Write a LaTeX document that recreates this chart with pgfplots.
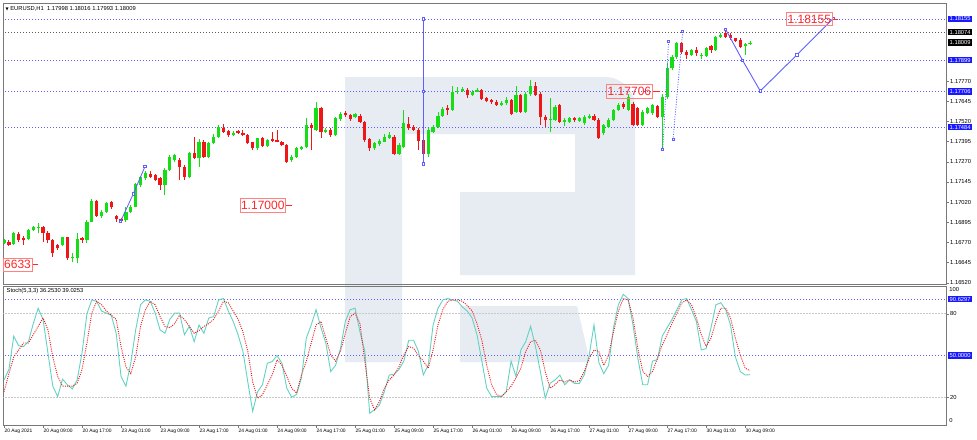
\documentclass[border=0pt]{standalone}
\usepackage{pgfplots}
\pgfplotsset{compat=1.18}
\usepackage{pgfplotstable}
\usepackage{fontspec}
\setmainfont{Liberation Sans}
\newfontfamily\dejavu{DejaVu Sans}
\definecolor{cgreen}{RGB}{22,222,22}
\definecolor{cred}{RGB}{238,22,22}
\definecolor{lvl}{RGB}{95,95,255}
\definecolor{lblue}{RGB}{25,25,255}
\definecolor{teal2}{RGB}{100,210,195}
\definecolor{wm}{RGB}{231,235,242}
\definecolor{frame}{RGB}{120,120,120}
\definecolor{lgray}{RGB}{200,200,200}
\definecolor{labred}{RGB}{255,40,40}
\definecolor{labbord}{RGB}{255,130,130}
\newcommand\fs[1]{\fontsize{#1}{#1}\selectfont}

\pgfplotstableread{
i o h l c
0 1.16765 1.16790 1.16760 1.16786
1 1.16776 1.16786 1.16750 1.16755
2 1.16761 1.16835 1.16757 1.16827
3 1.16821 1.16835 1.16776 1.16786
4 1.16796 1.16811 1.16755 1.16786
5 1.16790 1.16855 1.16786 1.16848
6 1.16848 1.16875 1.16840 1.16864
7 1.16858 1.16889 1.16827 1.16869
8 1.16864 1.16875 1.16776 1.16827
9 1.16827 1.16840 1.16765 1.16786
10 1.16786 1.16790 1.16683 1.16703
11 1.16755 1.16760 1.16724 1.16734
12 1.16755 1.16807 1.16750 1.16803
13 1.16803 1.16807 1.16662 1.16672
14 1.16672 1.16703 1.16652 1.16683
15 1.16672 1.16827 1.16641 1.16792
16 1.16800 1.16805 1.16770 1.16786
17 1.16786 1.16910 1.16770 1.16900
18 1.16900 1.17040 1.16895 1.17028
19 1.17028 1.17034 1.16930 1.16935
20 1.16935 1.16970 1.16925 1.16962
21 1.16962 1.17018 1.16955 1.17013
22 1.17018 1.17030 1.16980 1.16988
23 1.16932 1.16941 1.16900 1.16918
24 1.16916 1.16925 1.16893 1.16905
25 1.16910 1.16993 1.16900 1.16962
26 1.16962 1.17000 1.16955 1.16993
27 1.16993 1.17137 1.16988 1.17131
28 1.17127 1.17185 1.17115 1.17174
29 1.17168 1.17210 1.17160 1.17199
30 1.17195 1.17210 1.17170 1.17178
31 1.17189 1.17195 1.17150 1.17158
32 1.17168 1.17178 1.17096 1.17127
33 1.17127 1.17230 1.17065 1.17220
34 1.17220 1.17310 1.17210 1.17302
35 1.17282 1.17320 1.17270 1.17313
36 1.17282 1.17292 1.17158 1.17240
37 1.17240 1.17250 1.17160 1.17178
38 1.17178 1.17330 1.17170 1.17323
39 1.17323 1.17426 1.17285 1.17292
40 1.17292 1.17410 1.17240 1.17395
41 1.17395 1.17405 1.17295 1.17302
42 1.17302 1.17392 1.17295 1.17385
43 1.17385 1.17440 1.17380 1.17426
44 1.17426 1.17500 1.17420 1.17484
45 1.17482 1.17505 1.17450 1.17457
46 1.17462 1.17470 1.17425 1.17436
47 1.17436 1.17460 1.17430 1.17451
48 1.17459 1.17470 1.17445 1.17451
49 1.17451 1.17465 1.17430 1.17436
50 1.17436 1.17445 1.17380 1.17385
51 1.17390 1.17395 1.17345 1.17354
52 1.17354 1.17420 1.17345 1.17416
53 1.17416 1.17425 1.17360 1.17369
54 1.17369 1.17410 1.17360 1.17406
55 1.17410 1.17457 1.17395 1.17402
56 1.17406 1.17468 1.17390 1.17395
57 1.17390 1.17400 1.17370 1.17375
58 1.17375 1.17380 1.17261 1.17271
59 1.17282 1.17310 1.17270 1.17302
60 1.17302 1.17360 1.17295 1.17354
61 1.17350 1.17370 1.17345 1.17360
62 1.17360 1.17540 1.17355 1.17498
63 1.17498 1.17510 1.17344 1.17478
64 1.17468 1.17643 1.17460 1.17602
65 1.17602 1.17612 1.17420 1.17457
66 1.17457 1.17478 1.17447 1.17467
67 1.17467 1.17478 1.17426 1.17436
68 1.17436 1.17550 1.17430 1.17540
69 1.17534 1.17580 1.17525 1.17567
70 1.17571 1.17585 1.17550 1.17560
71 1.17560 1.17567 1.17525 1.17534
72 1.17545 1.17575 1.17540 1.17565
73 1.17556 1.17565 1.17510 1.17519
74 1.17519 1.17525 1.17395 1.17406
75 1.17412 1.17420 1.17340 1.17354
76 1.17354 1.17395 1.17344 1.17385
77 1.17380 1.17410 1.17370 1.17399
78 1.17395 1.17440 1.17390 1.17426
79 1.17420 1.17457 1.17410 1.17436
80 1.17426 1.17436 1.17310 1.17319
81 1.17319 1.17385 1.17310 1.17375
82 1.17364 1.17591 1.17354 1.17509
83 1.17505 1.17550 1.17470 1.17478
84 1.17488 1.17495 1.17460 1.17467
85 1.17467 1.17478 1.17344 1.17399
86 1.17406 1.17420 1.17285 1.17319
87 1.17319 1.17478 1.17302 1.17467
88 1.17457 1.17500 1.17447 1.17488
89 1.17488 1.17580 1.17478 1.17554
90 1.17554 1.17612 1.17545 1.17596
91 1.17602 1.17620 1.17560 1.17591
92 1.17591 1.17740 1.17585 1.17705
93 1.17701 1.17736 1.17690 1.17709
94 1.17711 1.17735 1.17700 1.17721
95 1.17715 1.17725 1.17664 1.17684
96 1.17684 1.17715 1.17675 1.17705
97 1.17705 1.17725 1.17700 1.17715
98 1.17715 1.17720 1.17650 1.17658
99 1.17664 1.17670 1.17640 1.17649
100 1.17653 1.17660 1.17630 1.17643
101 1.17643 1.17650 1.17615 1.17622
102 1.17622 1.17645 1.17615 1.17637
103 1.17633 1.17670 1.17625 1.17653
104 1.17653 1.17660 1.17560 1.17567
105 1.17581 1.17740 1.17575 1.17684
106 1.17684 1.17690 1.17575 1.17581
107 1.17581 1.17700 1.17575 1.17690
108 1.17688 1.17777 1.17680 1.17740
109 1.17740 1.17767 1.17675 1.17684
110 1.17690 1.17700 1.17498 1.17550
111 1.17550 1.17560 1.17488 1.17529
112 1.17529 1.17664 1.17457 1.17536
113 1.17529 1.17620 1.17520 1.17612
114 1.17622 1.17630 1.17510 1.17519
115 1.17519 1.17540 1.17490 1.17529
116 1.17519 1.17550 1.17510 1.17540
117 1.17540 1.17550 1.17515 1.17529
118 1.17522 1.17545 1.17515 1.17540
119 1.17509 1.17560 1.17500 1.17550
120 1.17540 1.17565 1.17535 1.17554
121 1.17554 1.17565 1.17520 1.17529
122 1.17529 1.17540 1.17412 1.17420
123 1.17447 1.17505 1.17436 1.17498
124 1.17488 1.17540 1.17480 1.17529
125 1.17529 1.17600 1.17520 1.17591
126 1.17591 1.17635 1.17585 1.17622
127 1.17629 1.17640 1.17600 1.17608
128 1.17591 1.17690 1.17585 1.17674
129 1.17629 1.17640 1.17490 1.17498
130 1.17602 1.17610 1.17490 1.17498
131 1.17498 1.17590 1.17490 1.17581
132 1.17571 1.17610 1.17565 1.17602
133 1.17571 1.17630 1.17560 1.17622
134 1.17616 1.17625 1.17540 1.17550
135 1.17550 1.17690 1.17344 1.17674
136 1.17674 1.17880 1.17660 1.17850
137 1.17850 1.17930 1.17840 1.17922
138 1.17922 1.18015 1.17910 1.18004
139 1.18004 1.18015 1.17940 1.17952
140 1.17952 1.17960 1.17910 1.17932
141 1.17932 1.17970 1.17925 1.17963
142 1.17963 1.17980 1.17925 1.17942
143 1.17926 1.17945 1.17905 1.17934
144 1.17926 1.17980 1.17920 1.17973
145 1.17990 1.17995 1.17945 1.17960
146 1.17960 1.18050 1.17955 1.18042
147 1.18042 1.18070 1.18035 1.18056
148 1.18066 1.18090 1.18040 1.18046
149 1.18056 1.18066 1.18025 1.18035
150 1.18035 1.18040 1.18010 1.18021
151 1.18025 1.18035 1.17975 1.17984
152 1.17990 1.18003 1.17932 1.17998
153 1.17998 1.18016 1.17993 1.18009
}\candles

\pgfplotstableread{
i k d
0 32.5 24
1 40 37
2 64 49
3 57 54
4 56.5 59
5 60 59
6 73 65
7 84 71
8 76 77
9 52 68.5
10 28 49
11 20.5 35
12 33 28
13 29 28
14 26 28
15 32.5 30
16 52 40
17 80 59
18 90 80.5
19 89 89
20 82 86.5
21 80.5 82
22 79 79
23 66 76
24 35 56.5
25 28 42
26 44.5 37
27 68.5 49
28 86.5 71
29 90 83
30 89 89
31 80.5 86.5
32 68.5 78
33 66 71
34 76 70
35 80.5 73
36 80.5 79
37 65 76
38 71 71
39 60 66
40 72 68
41 66 71
42 77 73
43 78 76
44 90 82
45 91 89
46 82 88
47 74.5 82
48 65 76
49 53 67
50 31 53
51 10 31
52 24 19.3
53 29 21.7
54 44.5 29
55 45.7 36
56 50 47
57 44.5 43
58 26.5 35
59 20 26.5
60 22 23
61 34 36
62 62.5 46
63 72 59
64 83 72
65 70 74.5
66 59 62.5
67 38.5 50.5
68 43 46
69 55 53
70 74.5 66
71 83 78
72 84 80.5
73 67 73
74 53 46
75 8.5 19.3
76 11 11
77 14.5 17
78 24 26.5
79 36 32.5
80 36.6 36
81 40 42
82 46 50.5
83 61 56.5
84 61 55.3
85 53 50
86 36 46
87 43 41
88 72 54
89 84 72
90 90 83
91 91 89
92 90 90
93 89 90
94 85 89
95 82 86
96 77 82
97 65 73
98 46 61
99 26.5 43
100 20.5 29
101 20.5 22
102 20.5 20.5
103 24 24
104 46 28
105 35 34
106 54 41
107 60 53
108 71 60
109 56.5 61
110 38.5 54
111 19.3 38.5
112 30 26.5
113 32.5 29
114 36 32.5
115 29 31
116 32.5 32.5
117 30 31
118 30 32
119 36 38.5
120 50 48
121 72 54
122 45 53
123 37 43
124 43 50.5
125 70 67
126 86.5 82
127 94 91
128 91 90
129 72 77
130 48 55
131 29 38.5
132 29 35
133 46 38.5
134 47 48
135 64 57.7
136 70 65
137 76 73.3
138 83 80.5
139 90 87.7
140 91 90
141 83 86.5
142 74.5 77
143 54 65
144 55 56.5
145 70 62.5
146 86.5 74.5
147 88 84
148 83 84
149 72 77
150 49 62.5
151 38.5 50.5
152 36 41
153 36.25 39.03
}\stoch

\tikzset{
 rlab/.style={anchor=west, xshift=1.6bp, text=white, font=\fs{5.8bp}, inner xsep=1.4bp, inner ysep=1.1bp},
 plab/.style={anchor=east, draw=labbord, text=labred, font=\fs{12bp}, inner xsep=1bp, inner ysep=2.4bp, line width=0.8bp},
}

\begin{document}
\begin{tikzpicture}
\useasboundingbox (0,0) rectangle (977bp,-440bp);
\fill[white] (0,0) rectangle (977bp,-440bp);
\begin{scope}[x=1bp,y=-1bp]
\fill[wm] (345,77) -- (605,77) arc[start angle=-90,end angle=0,radius=30] -- (635,275) -- (460,275) -- (460,192) -- (575,192) -- (575,134) -- (402,134) -- (402,362) -- (345,362) -- cycle;
\fill[wm] (460,306) -- (577,306) -- (590,362) -- (460,362) -- cycle;
\end{scope}

\begin{axis}[
  at={(3.3bp,-3.3bp)}, anchor=north west, scale only axis,
  width=943.2bp, height=280.7bp,
  xmin=-0.15, xmax=193.3, ymin=1.16513, ymax=1.18252,
  axis line style={draw=frame, line width=1bp},
  xtick=\empty,
  ytick={1.16520,1.16645,1.16770,1.16895,1.17020,1.17145,1.17270,1.17395,1.17520,1.17645,1.17770},
  yticklabels={1.16520,1.16645,1.16770,1.16895,1.17020,1.17145,1.17270,1.17395,1.17520,1.17645,1.17770},
  ytick pos=right, yticklabel pos=right,
  tick align=outside, major tick length=2.5bp,
  tick style={draw=frame, line width=0.6bp},
  yticklabel style={font=\fs{5.8bp}, inner sep=1bp},
  clip mode=individual,
]
% levels
\addplot[lvl, line width=0.9bp, dash pattern=on 1bp off 2bp] coordinates {(-1,1.18155) (195,1.18155)};
\addplot[lvl, line width=0.9bp, dash pattern=on 1bp off 2bp] coordinates {(-1,1.17899) (195,1.17899)};
\addplot[lvl, line width=0.9bp, dash pattern=on 1bp off 2bp] coordinates {(-1,1.17706) (195,1.17706)};
\addplot[lvl, line width=0.9bp, dash pattern=on 1bp off 2bp] coordinates {(-1,1.17484) (195,1.17484)};
\addplot[black!65, line width=0.9bp, dash pattern=on 1bp off 2bp] coordinates {(-1,1.18074) (195,1.18074)};
% candles: wicks
\addplot[draw=none, mark=none, forget plot, restrict expr to domain={\thisrow{c}-\thisrow{o}}{0:1},
  error bars/.cd, y dir=plus, y explicit, error mark=none, error bar style={draw=cgreen, line width=0.9bp}]
  table[x=i, y=l, y error plus expr=\thisrow{h}-\thisrow{l}] {\candles};
\addplot[draw=none, mark=none, forget plot, restrict expr to domain={\thisrow{o}-\thisrow{c}}{0.000001:1},
  error bars/.cd, y dir=plus, y explicit, error mark=none, error bar style={draw=cred, line width=0.9bp}]
  table[x=i, y=l, y error plus expr=\thisrow{h}-\thisrow{l}] {\candles};
% bodies
\addplot[draw=none, mark=none, forget plot, restrict expr to domain={\thisrow{c}-\thisrow{o}}{0:1},
  error bars/.cd, y dir=plus, y explicit, error mark=none, error bar style={draw=cgreen, line width=3.2bp}]
  table[x=i, y=o, y error plus expr=\thisrow{c}-\thisrow{o}] {\candles};
\addplot[draw=none, mark=none, forget plot, restrict expr to domain={\thisrow{o}-\thisrow{c}}{0.000001:1},
  error bars/.cd, y dir=plus, y explicit, error mark=none, error bar style={draw=cred, line width=3.2bp}]
  table[x=i, y=c, y error plus expr=\thisrow{o}-\thisrow{c}] {\candles};
% analysis objects
\addplot[lvl, line width=0.9bp, mark=square*, mark size=1.2bp, mark options={solid, fill=white}] coordinates {(86,1.17257) (86,1.17706) (86,1.18155)};
\addplot[lvl, line width=0.8bp, mark=square*, mark size=1.1bp, mark options={solid, fill=white}] coordinates {(23.9,1.16900) (26.5,1.17071) (28.9,1.17240)};
\addplot[lvl, line width=0.9bp, mark=square*, mark size=1.2bp, mark options={solid, fill=white}] coordinates {(148.0,1.18091) (151.5,1.17897) (155.1,1.17709) (162.6,1.17932) (170.1,1.18159)};
\addplot[lvl, line width=0.8bp, dash pattern=on 1bp off 1.5bp, mark=square*, mark size=1bp, mark options={solid, fill=white}] coordinates {(135.1,1.17344) (136.3,1.18015)};
\addplot[lvl, line width=0.8bp, dash pattern=on 1bp off 1.5bp, mark=square*, mark size=1bp, mark options={solid, fill=white}] coordinates {(137.2,1.17406) (139.2,1.18077)};
% price label ticks
\addplot[labred, line width=0.8bp] coordinates {(169.9,1.18155) (171.1,1.18155)};
\addplot[labred, line width=0.8bp] coordinates {(133.0,1.17706) (134.6,1.17706)};
\addplot[labred, line width=0.8bp] coordinates {(57.8,1.17000) (59.0,1.17000)};
\addplot[labred, line width=0.8bp] coordinates {(5.8,1.16633) (7.0,1.16633)};
\node[plab] at (axis cs:169.9,1.18155) {1.18155};
\node[plab] at (axis cs:133.0,1.17706) {1.17706};
\node[plab] at (axis cs:57.8,1.17000) {1.17000};
\node[plab] at (axis cs:5.8,1.16633) {6633};
% right labels
\node[rlab, fill=lblue] at (axis cs:193.3,1.18155) {1.18155};
\node[rlab, fill=black] at (axis cs:193.3,1.18074) {1.18074};
\node[rlab, fill=black] at (axis cs:193.3,1.18009) {1.18009};
\node[rlab, fill=lblue] at (axis cs:193.3,1.17899) {1.17899};
\node[rlab, fill=lblue] at (axis cs:193.3,1.17706) {1.17706};
\node[rlab, fill=lblue] at (axis cs:193.3,1.17484) {1.17484};
% title
\node[anchor=west, font=\fs{5.8bp}, inner sep=0pt] at (axis cs:0.3,1.18220) {{\dejavu\fs{4bp}▼}\ EURUSD,H1\ \ 1.17998 1.18016 1.17993 1.18009};
\end{axis}

\begin{axis}[
  at={(3.3bp,-286bp)}, anchor=north west, scale only axis,
  width=943.2bp, height=139.1bp,
  xmin=-0.15, xmax=193.3, ymin=0, ymax=100,
  axis line style={draw=frame, line width=1bp},
  xtick={0,8,...,152},
  xticklabels={20 Aug 2021,20 Aug 09:00,20 Aug 17:00,23 Aug 01:00,23 Aug 09:00,23 Aug 17:00,24 Aug 01:00,24 Aug 09:00,24 Aug 17:00,25 Aug 01:00,25 Aug 09:00,25 Aug 17:00,26 Aug 01:00,26 Aug 09:00,26 Aug 17:00,27 Aug 01:00,27 Aug 09:00,27 Aug 17:00,30 Aug 01:00,30 Aug 09:00},
  xtick pos=left,
  ytick={20,80}, yticklabels={20,80},
  ytick pos=right, yticklabel pos=right,
  tick align=outside, major tick length=2.5bp,
  tick style={draw=frame, line width=0.6bp},
  yticklabel style={font=\fs{5.8bp}, inner sep=1bp},
  xticklabel style={font=\fs{4.9bp}, anchor=north west, inner sep=0pt, xshift=0.3bp, yshift=-1.2bp},
  clip mode=individual,
]
\addplot[lgray, line width=0.9bp, dash pattern=on 1.5bp off 1.5bp] coordinates {(-1,80) (195,80)};
\addplot[lgray, line width=0.9bp, dash pattern=on 1.5bp off 1.5bp] coordinates {(-1,20) (195,20)};
\addplot[lvl, line width=0.9bp, dash pattern=on 1bp off 2bp] coordinates {(-1,90.6297) (195,90.6297)};
\addplot[lvl, line width=0.9bp, dash pattern=on 1bp off 2bp] coordinates {(-1,50) (195,50)};
\addplot[teal2, line width=0.9bp] table[x=i, y=k] {\stoch};
\addplot[cred, line width=0.9bp, dash pattern=on 1bp off 1.2bp] table[x=i, y=d] {\stoch};
\node[rlab, fill=lblue] at (axis cs:193.3,90.6297) {90.6297};
\node[rlab, fill=lblue] at (axis cs:193.3,50) {50.0000};
\node[anchor=west, font=\fs{5.8bp}, inner sep=1bp, xshift=1.6bp] at (axis cs:193.3,97.3) {100};
\node[anchor=west, font=\fs{5.8bp}, inner sep=1bp, xshift=1.6bp] at (axis cs:193.3,3) {0};
\node[anchor=west, font=\fs{5.8bp}, inner sep=0pt] at (axis cs:0.5,96.6) {Stoch(5,3,3) 36.2530 39.0253};
\end{axis}
\end{tikzpicture}
\end{document}
